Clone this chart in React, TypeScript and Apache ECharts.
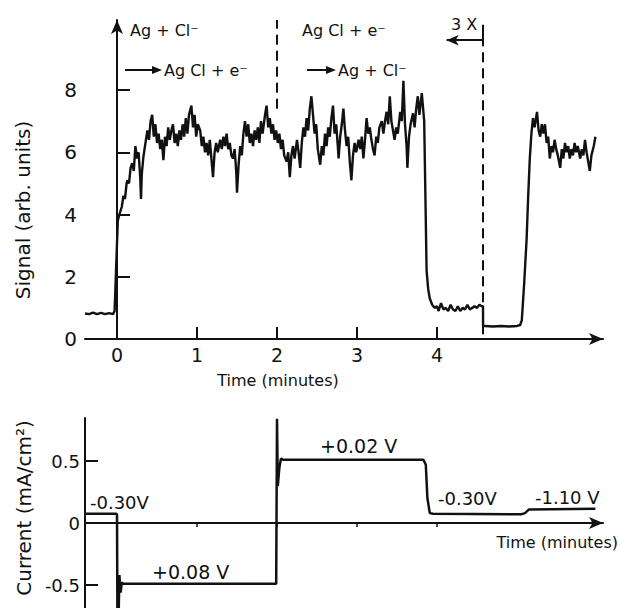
import React, { useEffect, useRef } from "react";
import * as echarts from "echarts";

// Signal trace (top panel)
const signalTime = [
  -0.4, -0.35, -0.3, -0.25, -0.2, -0.15, -0.1, -0.05, -0.03, 0.01, 0.03, 0.06, 0.08, 0.1, 0.12, 0.13, 0.15, 0.17, 0.19, 0.21, 0.23, 0.25, 0.27, 0.29, 0.3, 0.31, 0.33, 0.35,
  0.38, 0.4, 0.42, 0.44, 0.46, 0.48, 0.5, 0.52, 0.54, 0.56, 0.58, 0.6, 0.62, 0.64, 0.66, 0.68, 0.7, 0.72, 0.74, 0.76, 0.78, 0.8, 0.82, 0.84, 0.86, 0.88, 0.9, 0.93, 0.95, 0.97, 0.99,
  1.01, 1.04, 1.06, 1.08, 1.1, 1.12, 1.14, 1.16, 1.18, 1.2, 1.22, 1.24, 1.26, 1.29, 1.31, 1.33, 1.35, 1.37, 1.39, 1.41, 1.43, 1.45, 1.47, 1.49, 1.5, 1.52, 1.54, 1.56, 1.58,
  1.6, 1.62, 1.64, 1.66, 1.68, 1.7, 1.72, 1.74, 1.76, 1.78, 1.8, 1.82, 1.85, 1.87, 1.89, 1.91, 1.93, 1.95, 1.97, 1.99,
  2.01, 2.03, 2.05, 2.07, 2.09, 2.12, 2.14, 2.16, 2.18, 2.2, 2.22, 2.25, 2.27, 2.29, 2.31, 2.33, 2.35, 2.37, 2.39, 2.41, 2.43, 2.45, 2.47, 2.49, 2.51, 2.54, 2.56, 2.58,
  2.6, 2.62, 2.64, 2.66, 2.68, 2.7, 2.72, 2.74, 2.76, 2.77, 2.79, 2.81, 2.83, 2.85, 2.87, 2.89, 2.91, 2.93, 2.95, 2.97, 2.99,
  3.02, 3.04, 3.06, 3.08, 3.1, 3.12, 3.14, 3.16, 3.18, 3.2, 3.22, 3.24, 3.26, 3.28, 3.31, 3.33, 3.35, 3.37, 3.39, 3.41, 3.43, 3.45, 3.47, 3.49, 3.51, 3.54, 3.56, 3.58,
  3.6, 3.62, 3.63, 3.65, 3.67, 3.7, 3.72, 3.74, 3.76, 3.78, 3.81, 3.83, 3.84, 3.85, 3.87, 3.89, 3.91, 3.94, 3.97,
  4.0, 4.02, 4.05, 4.08, 4.11, 4.14, 4.17, 4.2, 4.23, 4.26, 4.29, 4.32, 4.35, 4.38, 4.41, 4.44, 4.47, 4.5, 4.53, 4.56, 4.575,
  4.576, 4.6, 4.7, 4.8, 4.9, 5.0, 5.04, 5.06, 5.09, 5.12, 5.14, 5.16, 5.18, 5.2, 5.22, 5.25, 5.27, 5.29, 5.31, 5.33, 5.35, 5.37, 5.39,
  5.41, 5.43, 5.45, 5.47, 5.49, 5.51, 5.54, 5.56, 5.58, 5.6, 5.62, 5.64, 5.66, 5.68, 5.7, 5.72, 5.74, 5.76, 5.79, 5.81, 5.83, 5.85, 5.87, 5.89, 5.91, 5.93, 5.96, 5.98,
];
const signalValue = [
  0.82, 0.8, 0.85, 0.8, 0.84, 0.8, 0.83, 0.8, 0.9, 3.8, 4.0, 4.25, 4.6, 4.5, 5.0, 5.1, 5.0, 5.5, 5.65, 5.4, 6.2, 5.8, 6.0, 5.2, 4.5, 5.3, 5.85, 6.2,
  6.7, 6.4, 7.0, 7.2, 6.5, 6.9, 6.3, 6.6, 6.1, 6.4, 5.75, 6.5, 6.2, 6.8, 6.4, 6.7, 6.9, 6.3, 6.6, 6.2, 6.7, 6.4, 6.9, 6.5, 7.1, 6.6, 7.2, 7.5, 6.8, 7.2, 6.5,
  6.9, 6.7, 6.2, 6.5, 6.0, 6.3, 5.9, 6.4, 5.8, 5.2, 6.0, 6.3, 6.0, 6.4, 6.1, 6.5, 6.2, 6.6, 6.1, 6.3, 5.9, 5.8, 6.1, 5.4, 4.7, 5.6, 6.2, 5.9, 6.6,
  7.0, 6.5, 6.9, 6.3, 6.6, 6.2, 6.7, 6.4, 6.8, 6.3, 7.0, 6.6, 7.2, 7.5, 6.8, 7.1, 6.6, 6.9, 6.4, 6.7,
  6.3, 6.6, 6.1, 6.4, 5.9, 5.7, 6.0, 5.2, 5.9, 6.2, 5.8, 6.4, 6.0, 5.5, 6.3, 6.8, 6.5, 7.1, 6.7, 7.4, 7.8, 7.2, 6.6, 6.9, 6.1, 5.6, 6.2, 5.9,
  6.6, 6.2, 6.8, 6.5, 7.1, 7.5, 6.6, 6.9, 6.2, 5.8, 6.5, 6.9, 7.4, 6.7, 6.2, 6.5, 5.7, 5.1, 5.9, 6.3, 6.0,
  6.4, 6.1, 6.5, 5.8, 6.4, 7.1, 6.6, 6.8, 6.4, 6.1, 5.9, 6.5, 6.3, 6.8, 7.0, 6.6, 7.0, 7.3, 6.9, 7.8, 7.0, 6.7, 6.4, 6.8, 6.6, 7.3, 7.0, 8.3,
  6.9, 6.2, 5.5, 6.5, 6.9, 7.25, 6.8, 7.4, 7.8, 7.2, 7.9, 7.3, 7.0, 5.4, 2.2, 1.6, 1.3, 1.1, 1.0,
  1.05, 0.9, 1.15, 0.95, 1.0, 0.9, 1.1, 0.95, 0.9, 1.05, 0.9, 1.0, 0.95, 1.1, 0.95, 1.0, 1.05, 1.0, 1.1, 1.05, 1.05,
  0.42, 0.42, 0.4, 0.42, 0.4, 0.42, 0.45, 0.6, 1.8, 3.2, 4.6, 5.8, 6.6, 7.1, 6.8, 7.3, 6.7, 6.5, 6.9, 6.6, 6.9, 6.3, 6.5,
  5.8, 6.2, 6.0, 6.4, 6.1, 5.9, 5.5, 6.1, 5.8, 6.3, 6.0, 6.2, 5.8, 6.1, 5.9, 6.3, 6.0, 6.2, 5.8, 6.1, 5.9, 6.4, 6.0, 5.7, 5.4, 5.9, 6.2, 6.5,
];

// Current trace (bottom panel)
const currentTime = [-0.4, -0.01, 0.0, 0.005, 0.02, 0.03, 0.045, 0.06, 0.08, 1.99, 2.0, 2.01, 2.03, 2.05, 2.08, 3.83, 3.86, 3.88, 3.91, 3.95, 5.05, 5.1, 5.15, 5.98];
const currentValue = [0.075, 0.075, 0.07, -0.75, -0.75, -0.42, -0.56, -0.48, -0.49, -0.49, 0.84, 0.3, 0.45, 0.52, 0.51, 0.51, 0.47, 0.2, 0.08, 0.075, 0.07, 0.08, 0.11, 0.115];

const timeTicks = [0, 1, 2, 3, 4];
const signalTicks = [0, 2, 4, 6, 8];
const currentTicks = [0.5, 0, -0.5];
const currentTickMarks = [0.5, -0.5];
const bottomTimeTicks = [1, 2, 3, 4];

const FONT = "DejaVu Sans";
const INK = "#111";

export default function App() {
  const ref = useRef<HTMLDivElement>(null);
  useEffect(() => {
    document.body.style.margin = "0";
    const chart = echarts.init(ref.current!, undefined, { renderer: "svg" });
    const signalData = signalTime.map((t, i) => [t, signalValue[i]]);
    const currentData = currentTime.map((t, i) => [t, currentValue[i]]);
    const txt = (x: number, y: number, text: string, size = 16, align = "left", rotation = 0) => ({
      type: "text",
      x,
      y,
      rotation,
      style: { text, fill: INK, font: `${size}px "${FONT}"`, align, verticalAlign: "middle" },
    });
    const arrow = (x1: number, x2: number, y: number) => [
      { type: "line", shape: { x1, y1: y, x2: x2 - 8, y2: y }, style: { stroke: INK, lineWidth: 2 } },
      { type: "polygon", shape: { points: [[x2, y], [x2 - 10, y - 4], [x2 - 10, y + 4]] }, style: { fill: INK } },
    ];
    const option: any = {
      animation: false,
      grid: [
        { left: 85, top: 20, width: 518, height: 319 },
        { left: 85, top: 418, width: 518, height: 190 },
      ],
      xAxis: [
        {
          gridIndex: 0, type: "value", min: -0.4, max: 6.075,
          axisLine: { lineStyle: { color: INK, width: 2 }, symbol: ["none", "arrow"], symbolSize: [9, 14] },
          axisTick: { inside: true, length: 12, customValues: timeTicks, lineStyle: { color: INK, width: 2 } },
          axisLabel: { customValues: timeTicks, fontSize: 19, color: INK, fontFamily: FONT, margin: 6 },
          splitLine: { show: false },
        },
        {
          gridIndex: 1, type: "value", min: -0.4, max: 6.075,
          axisLine: { onZero: true, lineStyle: { color: INK, width: 2 }, symbol: ["none", "arrow"], symbolSize: [9, 14] },
          axisTick: { inside: false, length: 4, customValues: bottomTimeTicks, lineStyle: { color: INK, width: 1.5 } },
          axisLabel: { show: false },
          splitLine: { show: false },
        },
      ],
      yAxis: [
        {
          gridIndex: 0, type: "value", min: 0, max: 10.25,
          axisLine: { show: true, lineStyle: { color: INK, width: 2 }, symbol: ["none", "arrow"], symbolSize: [9, 14] },
          axisTick: { show: true, inside: true, length: 13, customValues: signalTicks, lineStyle: { color: INK, width: 2 } },
          axisLabel: { customValues: signalTicks, fontSize: 20, color: INK, fontFamily: FONT, margin: 8 },
          splitLine: { show: false },
        },
        {
          gridIndex: 1, type: "value", min: -0.685, max: 0.847,
          axisLine: { show: true, onZero: false, lineStyle: { color: INK, width: 2 } },
          axisTick: { show: true, inside: true, length: 13, customValues: currentTickMarks, lineStyle: { color: INK, width: 2 } },
          axisLabel: { customValues: currentTicks, fontSize: 18, color: INK, fontFamily: FONT, margin: 5 },
          splitLine: { show: false },
        },
      ],
      series: [
        {
          type: "line", xAxisIndex: 0, yAxisIndex: 0, data: signalData, showSymbol: false, clip: false,
          lineStyle: { color: INK, width: 2.4 },
          markLine: {
            silent: true, symbol: ["none", "none"], label: { show: false },
            lineStyle: { color: INK, width: 2, type: [10, 6] },
            data: [
              [{ coord: [2, 7.4] }, { coord: [2, 10.25] }],
              [{ coord: [4.575, 0.15] }, { coord: [4.575, 9.84] }],
              [{ coord: [4.575, 9.6], lineStyle: { type: "solid" } }, { coord: [4.575, 10.1], lineStyle: { type: "solid" } }],
              [{ coord: [4.575, 9.6], symbol: "none", lineStyle: { type: "solid" } }, { coord: [4.12, 9.6], symbol: "arrow", symbolSize: [8, 12], lineStyle: { type: "solid" } }],
            ],
          },
        },
        {
          type: "line", xAxisIndex: 1, yAxisIndex: 1, data: currentData, showSymbol: false,
          lineStyle: { color: INK, width: 2.5 },
        },
      ],
      graphic: [
        txt(23, 210, "Signal (arb. units)", 20, "center", Math.PI / 2),
        txt(24, 508, "Current (mA/cm²)", 20, "center", Math.PI / 2),
        txt(278, 380, "Time (minutes)", 16, "center"),
        txt(130, 30, "Ag + Cl⁻", 16),
        ...arrow(125, 162, 70),
        txt(164, 70, "Ag Cl + e⁻", 16),
        txt(302, 30, "Ag Cl + e⁻", 16),
        ...arrow(307, 336, 70),
        txt(338, 70, "Ag + Cl⁻", 16),
        txt(451, 24, "3 X", 16),
        txt(90, 502, "-0.30V", 18),
        txt(152, 572, "+0.08 V", 19),
        txt(320, 446, "+0.02 V", 19),
        txt(438, 498, "-0.30V", 18),
        txt(535, 497, "-1.10 V", 18),
        txt(618, 542, "Time (minutes)", 16, "right"),
      ],
    };
    chart.setOption(option);
    return () => chart.dispose();
  }, []);
  return <div ref={ref} style={{ width: 620, height: 608 }} />;
}
